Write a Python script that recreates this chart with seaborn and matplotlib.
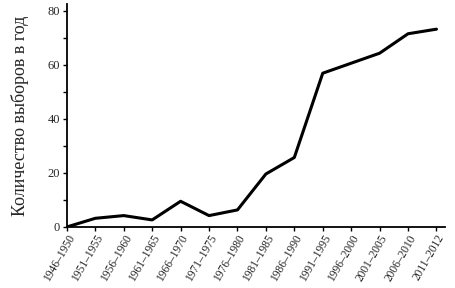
import matplotlib
matplotlib.use("Agg")
import matplotlib.pyplot as plt
import seaborn as sns
import pandas as pd
from matplotlib.ticker import MultipleLocator

periods = ["1946–1950", "1951–1955", "1956–1960", "1961–1965", "1966–1970",
           "1971–1975", "1976–1980", "1981–1985", "1986–1990", "1991–1995",
           "1996–2000", "2001–2005", "2006–2010", "2011–2012"]
counts = [0, 3.2, 4.2, 2.6, 9.5, 4.2, 6.3, 19.6, 25.7, 56.9, 60.6, 64.3, 71.5, 73.2]

sns.set_theme(style="ticks")
plt.rcParams['font.family'] = ['Liberation Serif', 'DejaVu Serif']

df = pd.DataFrame({"period": periods, "count": counts})
fig = plt.figure(figsize=(4.55, 2.88), dpi=100)
ax = fig.add_axes([0.147, 0.212, 0.831, 0.774])
sns.lineplot(data=df, x="period", y="count", color="black", linewidth=2.2, ax=ax, sort=False)

ax.set_xlim(0, 13.3)
ax.set_ylim(0, 82.5)
ax.yaxis.set_major_locator(MultipleLocator(20))
ax.yaxis.set_minor_locator(MultipleLocator(10))
for s in ["top", "right"]:
    ax.spines[s].set_visible(False)
for s in ["left", "bottom"]:
    ax.spines[s].set_linewidth(1.3)
    ax.spines[s].set_color("black")
ax.tick_params(axis="both", which="both", direction="out", color="black", width=1)
ax.tick_params(axis="y", which="major", length=3, labelsize=9, pad=2)
ax.tick_params(axis="y", which="minor", length=3)
ax.tick_params(axis="x", which="major", length=3, labelsize=8.3, pad=1)
plt.setp(ax.get_xticklabels(), rotation=60, ha="right", rotation_mode="anchor")
ax.set_xlabel("")
ax.set_ylabel("Количество выборов в год", fontsize=13, labelpad=13)
fig.savefig("out.png", dpi=100)
